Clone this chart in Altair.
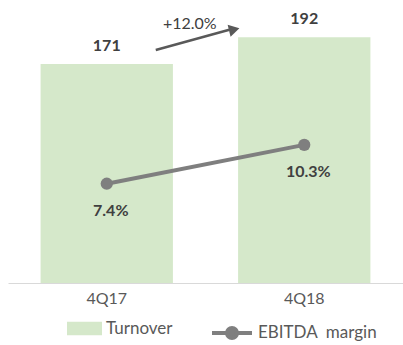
import altair as alt
import pandas as pd

quarters = ["4Q17", "4Q18"]
turnover = [171, 192]
margin = [7.4, 10.3]
margin_labels = ["7.4%", "10.3%"]
growth_label = "+12.0%"
arrow_from = [182]
arrow_to = [198]

df = pd.DataFrame({
    "q": quarters,
    "turnover": turnover,
    "margin": margin,
    "mlabel": margin_labels,
    "bar_series": ["Turnover"] * 2,
    "line_series": ["EBITDA\u00a0\u00a0margin"] * 2,
})
arrow_df = pd.DataFrame({"q": [quarters[0]], "q2": [quarters[1]],
                         "v": arrow_from, "v2": arrow_to, "lbl": [growth_label]})

FONT = "Lato"
TXT = "#404040"
BAR = "#d5e8ca"
LINE = "#7f7f7f"
ARR = "#595959"

xscale = alt.Scale(domain=quarters, paddingInner=0.33, paddingOuter=0.165)
x = alt.X("q:N", sort=quarters, title=None, scale=xscale,
          axis=alt.Axis(labelAngle=0, ticks=False, domainColor="#d9d9d9", domainWidth=1,
                        labelFont=FONT, labelFontSize=16, labelColor="#595959",
                        labelPadding=7, grid=False))

bscale = alt.Scale(domain=[0, 221])
ybar = alt.Y("turnover:Q", scale=bscale, axis=None)

bars = alt.Chart(df).mark_bar(color=BAR).encode(
    x=x, y=ybar,
    fill=alt.Fill("bar_series:N", scale=alt.Scale(range=[BAR]),
                  legend=alt.Legend(title=None, orient="none", legendX=59, legendY=311,
                                    symbolType="M-1,-0.38H1V0.38H-1Z", symbolSize=1225,
                                    symbolStrokeWidth=0, padding=0,
                                    labelFont=FONT, labelFontSize=17, labelColor="#595959",
                                    labelOffset=4)),
)

bar_text = alt.Chart(df).mark_text(font=FONT, fontSize=16, fontWeight="bold", color=TXT,
                                   baseline="middle", dy=-18).encode(
    x=x, y=ybar, text="turnover:Q")

arrow_l = alt.Chart(arrow_df).mark_rule(color=ARR, strokeWidth=2.5, xOffset=49, x2Offset=-74).encode(
    x=alt.X("q:N", scale=xscale), x2="q2:N",
    y=alt.Y("v:Q", scale=bscale, axis=None), y2="v2:Q")
head = alt.Chart(arrow_df).mark_point(shape="triangle-right", filled=True, size=150,
                                      color=ARR, opacity=1, angle=346, xOffset=-70).encode(
    x=alt.X("q2:N", scale=xscale), y=alt.Y("v2:Q", scale=bscale, axis=None))
growth = alt.Chart(arrow_df).mark_text(font=FONT, fontSize=16, color=TXT, dx=83, dy=-26,
                                       baseline="middle").encode(
    x=alt.X("q:N", scale=xscale), y=alt.Y("v:Q", scale=bscale, axis=None), text="lbl:N")

ymar = alt.Y("margin:Q", scale=alt.Scale(domain=[0, 21.1]), axis=None)

line = alt.Chart(df).mark_line(strokeWidth=4).encode(
    x=x, y=ymar,
    stroke=alt.Stroke("line_series:N", scale=alt.Scale(range=[LINE]),
                      legend=alt.Legend(title=None, orient="none", legendX=202, legendY=311,
                                        symbolType="M-1,0H-0.25M0.25,0H1M-0.25,0A0.25,0.25 0 1,0 0.25,0A0.25,0.25 0 1,0 -0.25,0Z",
                                        symbolSize=1600, symbolStrokeWidth=4,
                                        symbolFillColor=LINE, padding=0,
                                        labelFont=FONT, labelFontSize=17, labelColor="#595959",
                                        labelOffset=4)),
)
points = alt.Chart(df).mark_circle(size=150, color=LINE, opacity=1).encode(x=x, y=ymar)
mtext = alt.Chart(df).mark_text(font=FONT, fontSize=16, fontWeight="bold", color=TXT,
                                baseline="middle", dy=27, dx=4).encode(x=x, y=ymar, text="mlabel:N")

chart = alt.layer(
    alt.layer(bars, bar_text, arrow_l, head, growth),
    alt.layer(line, points, mtext),
).resolve_scale(
    y="independent", fill="independent", stroke="independent"
).properties(
    width=395, height=283, background="white",
    padding={"left": 8, "top": 0, "right": 0, "bottom": 0},
).configure_view(strokeWidth=0, stroke="transparent")

chart.save("out.html", embed_options={"renderer": "svg", "actions": False})
